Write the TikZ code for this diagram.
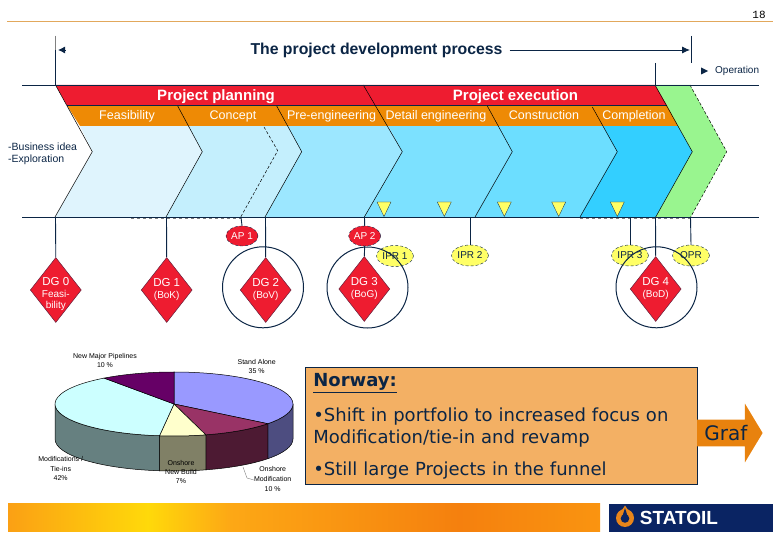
\documentclass[tikz,border=0pt]{standalone}
\usepackage{fontspec}
\setmainfont{Liberation Sans}
\newfontfamily\verdanalike{DejaVu Sans}
\newfontfamily\pagefont{Liberation Mono}
\usetikzlibrary{shapes.geometric,shapes.arrows,arrows.meta}
\definecolor{navy}{HTML}{0B2545}
\definecolor{gatered}{HTML}{EE1C30}
\definecolor{bandorange}{HTML}{EE8A05}
\definecolor{tickyellow}{HTML}{FFFF66}
\definecolor{rulegold}{HTML}{E2A85C}
\definecolor{boxorange}{HTML}{F3B064}
\definecolor{grafarrow}{HTML}{E8820E}
\definecolor{logoblue}{HTML}{0A2463}
\definecolor{logodrop}{HTML}{E8851A}
\definecolor{secA}{HTML}{DFF4FD}
\definecolor{secB}{HTML}{C4EFFD}
\definecolor{secC}{HTML}{9CE7FF}
\definecolor{secD}{HTML}{7CE1FF}
\definecolor{secE}{HTML}{6CDEFF}
\definecolor{secF}{HTML}{33CFFF}
\definecolor{secG}{HTML}{99F58F}
\definecolor{pieA}{HTML}{9999FF}
\definecolor{pieAside}{HTML}{4D4D80}
\definecolor{pieB}{HTML}{993366}
\definecolor{pieBside}{HTML}{4D1A33}
\definecolor{pieC}{HTML}{FFFFCC}
\definecolor{pieCside}{HTML}{808066}
\definecolor{pieD}{HTML}{CCFFFF}
\definecolor{pieDside}{HTML}{668080}
\definecolor{pieE}{HTML}{660066}
\definecolor{footA}{HTML}{FBA014}
\definecolor{footB}{HTML}{FFD90A}
\definecolor{footC}{HTML}{FDA815}
\definecolor{footD}{HTML}{F5800E}
\definecolor{footE}{HTML}{FA9410}
\newcommand{\fsize}[1]{\fontsize{#1}{#1}\selectfont}
\begin{document}
\begin{tikzpicture}[x=1pt,y=-1pt,
            every node/.style={inner sep=0pt},
            rulerline/.style={navy, line width=0.9pt},
            gate/.style={diamond, draw=navy!60!gatered, line width=0.5pt, fill=gatered, text=white, minimum width=51pt, minimum height=65pt, font=\fsize{11.5}, anchor=center},
            gatetext/.style={text=white, font=\fsize{11.5}},
            apnode/.style={ellipse, draw=navy, densely dashed, line width=0.4pt, fill=gatered, text=white, minimum width=32pt, minimum height=20pt, font=\fsize{10}},
            iprnode/.style={ellipse, draw=navy, densely dashed, line width=0.4pt, fill=tickyellow, text=navy, minimum width=37pt, minimum height=21pt, font=\fsize{10}},
            ring/.style={draw=navy, line width=1pt},
            bandhead/.style={anchor=base, text=white, font=\fsize{15}\bfseries},
            bandstep/.style={anchor=base, text=white, font=\fsize{12.5}},
            pielabel/.style={text=black, font=\fsize{7}},
            body/.style={text=navy, font=\verdanalike\fsize{18}},
        ]
            \useasboundingbox (0,0) rectangle (780,540);
            % head of the page
            \coordinate (ruleL) at (7,21.5);
            \coordinate (ruleR) at (773,21.5);
            \draw[rulegold, line width=0.8pt] (ruleL) -- (ruleR);
            \node(pagenum) at (759,15) {\pagefont\fsize{11}18};
            \node(title) at (376.5,50) [text=navy, font=\fsize{15.8}\bfseries] {The project development process};
            % sections, left to right, each one running on to the green arrow
            \foreach \xt/\xm/\xb/\secfill in {80/92.3/55/secA, 188.5/202.3/166/secB, 287.6/301.7/265/secC, 388.7/402.3/364.3/secD, 498.2/512.3/475/secE, 603.3/617.3/580/secF}
                \fill[\secfill] (\xt,126) -- (\xm,151.7) -- (\xb,217) -- (655.7,217) -- (692.3,151.7) -- (678,126) -- cycle;
            \fill[secG] (655,85) -- (690,85) -- (726.7,151.7) -- (690.7,217) -- (655.7,217) -- (692.3,151.7) -- cycle;
            \draw[black, line width=0.5pt, densely dashed] (690,85) -- (726.7,151.7) -- (690.7,217);
            \fill[gatered] (55.5,85) -- (655,85) -- (667,105.5) -- (67,105.5) -- cycle;
            \fill[bandorange] (67,105.5) -- (667,105.5) -- (678,126) -- (80,126) -- cycle;
            \draw[navy, line width=0.4pt] (67,105.5) -- (667,105.5);
            \node(planning) at (216,100.7) [bandhead] {Project planning};
            \node(execution) at (515.5,100.7) [bandhead] {Project execution};
            \node(feasibility) at (127,120) [bandstep] {Feasibility};
            \node(concept) at (233,120) [bandstep] {Concept};
            \node(preeng) at (331.5,120) [bandstep] {Pre-engineering};
            \node(detaileng) at (436,120) [bandstep] {Detail engineering};
            \node(construction) at (544,120) [bandstep] {Construction};
            \node(completion) at (634,120) [bandstep] {Completion};
            % section borders
            \draw[black, line width=0.5pt] (55.5,85) -- (92.3,151.7) -- (55,217);
            \draw[black, line width=0.5pt] (177.7,106) -- (202.3,151.7) -- (166,217);
            \draw[black, line width=0.5pt, densely dashed] (264,127) -- (277.7,150.7) -- (240.7,217);
            \draw[black, line width=0.5pt] (276.7,106) -- (301.7,151.7) -- (265,217);
            \draw[black, line width=0.5pt] (363.3,85) -- (402.3,151.7) -- (364.3,217);
            \draw[black, line width=0.5pt] (487.3,106) -- (512.3,151.7) -- (475,217);
            \draw[black, line width=0.5pt] (592.3,107) -- (617.3,151.7) -- (580,217);
            \draw[black, line width=0.5pt] (655,85) -- (692.3,151.7) -- (655.7,217);
            \foreach \tx in {384,444.3,504.3,558.7,617.3}
                \draw[fill=tickyellow, draw=navy, line width=0.3pt] ({\tx-7},202) -- ({\tx+7},202) -- (\tx,216.5) -- cycle;
            % time lines
            \coordinate (topL) at (22,85);
            \coordinate (topR) at (759,85);
            \coordinate (baseL) at (22,217);
            \coordinate (baseR) at (759,217);
            \draw[rulerline] (topL) -- (topR);
            \draw[rulerline] (baseL) -- (baseR);
            \draw[gray, line width=0.8pt, dashed] (131,218) -- (240.7,218);
            \draw[gray, line width=0.8pt, dashed] (580,218) -- (690,218);
            % ticks above the band
            \coordinate (startT) at (55.5,36);
            \coordinate (startB) at (55.5,85);
            \coordinate (endT) at (691.5,36);
            \coordinate (endB) at (691.5,63);
            \coordinate (execT) at (655.5,63);
            \coordinate (execB) at (655.5,85);
            \coordinate (startarrowL) at (58,50);
            \coordinate (startarrowR) at (65,50);
            \coordinate (endarrow) at (690,50);
            \draw[rulerline] (startT) -- (startB);
            \draw[gray, line width=1.2pt] (55.5,36) -- (55.5,50);
            \draw[rulerline] (endT) -- (endB);
            \draw[rulerline] (execT) -- (execB);
            \draw[rulerline, {Latex[length=7pt,width=7pt]}-] (startarrowL) -- (startarrowR);
            \draw[rulerline, -{Latex[length=8pt,width=7pt]}] ([xshift=7pt]title.east) -- (endarrow);
            \node(operation) at (715,71) [anchor=west, text=navy, font=\fsize{10}] {Operation};
            \fill[navy] (701,67.5) -- (708,71) -- (701,74.5) -- cycle;
            \node(ideas) at (8,154.5) [anchor=west, text=navy, font=\fsize{10.5}] {\begin{tabular}{@{}l@{}} -Business idea \\[1.5pt] -Exploration \end{tabular}};
            % gates
            \coordinate (base0) at (55.5,217);
            \coordinate (base1) at (166.5,217);
            \coordinate (base2) at (241,217);
            \coordinate (base3) at (265.5,217);
            \coordinate (base4) at (364.5,217);
            \coordinate (base5) at (470,217);
            \coordinate (base6) at (630,217);
            \coordinate (base7) at (655.5,217);
            \coordinate (base8) at (690.5,217);
            \node[gate](dg0) at (55.8,290) {};
            \node[gatetext](dg0text) at (55.8,295) {\begin{tabular}{@{}c@{}} DG 0 \\ \fsize{10}Feasi- \\ \fsize{10}bility \end{tabular}};
            \node[gate](dg1) at (166.7,290) {\begin{tabular}{@{}c@{}} DG 1 \\ \fsize{10}(BoK) \end{tabular}};
            \node[gate](dg2) at (265.7,290) {\begin{tabular}{@{}c@{}} DG 2 \\ \fsize{10}(BoV) \end{tabular}};
            \node[gate](dg3) at (364.3,289) {\begin{tabular}{@{}c@{}} DG 3 \\ \fsize{10}(BoG) \end{tabular}};
            \node[gate](dg4) at (655.7,289) {\begin{tabular}{@{}c@{}} DG 4 \\ \fsize{10}(BoD) \end{tabular}};
            \node[apnode](ap1) at (242,236) {AP 1};
            \node[apnode](ap2) at (364.7,236) {AP 2};
            \node[iprnode](ipr1) at (395,256) {IPR 1};
            \node[iprnode](ipr2) at (470,255.5) {IPR 2};
            \node[iprnode](ipr3) at (630,255.5) {IPR 3};
            \node[iprnode](opr) at (691,255.5) {OPR};
            \draw[rulerline] (base0) -- (dg0.north);
            \draw[rulerline] (base1) -- (dg1.north);
            \draw[rulerline] (base2) -- (ap1.north);
            \draw[rulerline] (base3) -- (dg2.north);
            \draw[rulerline] (base4) -- (ap2.north);
            \draw[rulerline] (ap2.south) -- (dg3.north);
            \draw[rulerline] (base5) -- (ipr2.north);
            \draw[rulerline] (base6) -- (ipr3.north);
            \draw[rulerline] (base7) -- (dg4.north);
            \draw[rulerline] (base8) -- (opr.north);
            \draw[ring] (263,287.3) circle (40.5);
            \draw[ring] (367.5,287.5) circle (40.5);
            \draw[ring] (656.5,287.3) circle (40.5);
            % pie, y upwards in this scope
            \begin{scope}[shift={(174,404)},y=1pt,line width=0.5pt]
                \filldraw[fill=pieAside] (119,0) arc[start angle=0, end angle=-38, x radius=119, y radius=32] -- ++(0,-35) arc[start angle=-38, end angle=0, x radius=119, y radius=32] -- cycle;
                \filldraw[fill=pieBside] ({119*cos(-38)},{32*sin(-38)}) arc[start angle=-38, end angle=-74.5, x radius=119, y radius=32] -- ++(0,-35) arc[start angle=-74.5, end angle=-38, x radius=119, y radius=32] -- cycle;
                \filldraw[fill=pieCside] ({119*cos(-74.5)},{32*sin(-74.5)}) arc[start angle=-74.5, end angle=-97, x radius=119, y radius=32] -- ++(0,-35) arc[start angle=-97, end angle=-74.5, x radius=119, y radius=32] -- cycle;
                \filldraw[fill=pieDside] ({119*cos(-97)},{32*sin(-97)}) arc[start angle=-97, end angle=-180, x radius=119, y radius=32] -- ++(0,-35) arc[start angle=-180, end angle=-97, x radius=119, y radius=32] -- cycle;
                \filldraw[fill=pieA] (0,0) -- (0,32) arc[start angle=90, end angle=-38, x radius=119, y radius=32] -- cycle;
                \filldraw[fill=pieB] (0,0) -- ({119*cos(-38)},{32*sin(-38)}) arc[start angle=-38, end angle=-74.5, x radius=119, y radius=32] -- cycle;
                \filldraw[fill=pieC] (0,0) -- ({119*cos(-74.5)},{32*sin(-74.5)}) arc[start angle=-74.5, end angle=-97, x radius=119, y radius=32] -- cycle;
                \filldraw[fill=pieD] (0,0) -- ({119*cos(-97)},{32*sin(-97)}) arc[start angle=-97, end angle=-234, x radius=119, y radius=32] -- cycle;
                \filldraw[fill=pieE] (0,0) -- ({119*cos(126)},{32*sin(126)}) arc[start angle=126, end angle=90, x radius=119, y radius=32] -- cycle;
            \end{scope}
            \node(pipelabel) at (105,361.5) [pielabel] {\begin{tabular}{@{}c@{}} New Major Pipelines \\[2pt] 10 \% \end{tabular}};
            \node(standlabel) at (256.7,367.5) [pielabel] {\begin{tabular}{@{}c@{}} Stand Alone \\[2.5pt] 35 \% \end{tabular}};
            \node(modlabel) at (60.7,469.5) [pielabel] {\begin{tabular}{@{}c@{}} Modifications / \\[2pt] Tie-ins \\[2pt] 42\% \end{tabular}};
            \node(buildlabel) at (181,473) [pielabel] {\begin{tabular}{@{}c@{}} Onshore \\[2pt] New Build \\[2pt] 7\% \end{tabular}};
            \node(onshorelabel) at (272.7,480) [pielabel] {\begin{tabular}{@{}c@{}} Onshore \\[2.5pt] Modification \\[2.5pt] 10 \% \end{tabular}};
            \coordinate (leaderA) at (243,467);
            \coordinate (leaderB) at (247,478);
            \draw[gray, line width=0.4pt] (leaderA) -- (leaderB) -- (onshorelabel.west);
            % comment box
            \node[draw=navy, line width=0.7pt, fill=boxorange, anchor=north west, minimum width=391.7pt, minimum height=117pt, align=left, text width=375.7pt, inner xsep=8pt, body](normbox) at (305,367.3) {\underline{\textbf{Norway:}} \\[14pt] •Shift in portfolio to increased focus on \\[4pt] Modification/tie-in and revamp \\[14pt] •Still large Projects in the funnel};
            \node[single arrow, fill=grafarrow, anchor=west, minimum height=65.5pt, minimum width=58.7pt, single arrow head extend=15pt, single arrow tip angle=118, text=navy, font=\verdanalike\fsize{20}, inner xsep=0pt, inner ysep=4.5pt](graf) at (696.9,433) {Graf};
            % foot of the page
            \fill[left color=footA, right color=footB] (8,503.5) rectangle (148,531);
            \fill[left color=footB, right color=footC] (148,503.5) rectangle (230,531);
            \fill[left color=footC, right color=footD] (230,503.5) rectangle (459,531);
            \fill[left color=footD, right color=footE] (459,503.5) rectangle (600,531);
            \node[fill=logoblue, minimum width=164pt, minimum height=27.7pt, anchor=north west](logo) at (609,504) {};
            \node(logotext) at (679,518) [text=white, font=\fsize{19}\bfseries] {STATOIL};
            \fill[logodrop] (625,518) circle (9);
            \fill[logodrop] (622,510) -- (625,505.5) -- (628,510) -- cycle;
            \fill[logoblue] (625,518.5) circle (4.3);
            \fill[logoblue] (622.5,516) -- (625,508) -- (627.5,516) -- cycle;
        \end{tikzpicture}
\end{document}
